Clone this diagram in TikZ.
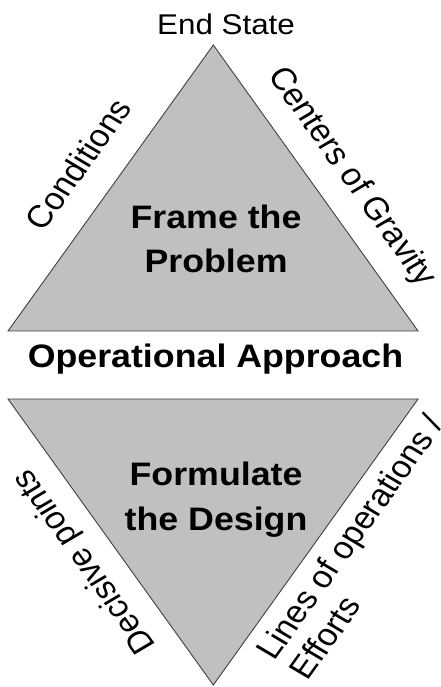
\documentclass[tikz,border=0pt]{standalone}
\usepackage{fontspec}
\setmainfont{Liberation Sans}
\definecolor{trifill}{HTML}{C0C0C0}
\definecolor{triedge}{HTML}{404040}
\tikzset{
  tri/.style={fill=trifill, draw=triedge, line width=0.9pt, line join=miter},
  sidelabel/.style={inner sep=0pt, outer sep=0pt, font=\fontsize{31.5}{36}\selectfont},
  biglabel/.style={inner sep=0pt, outer sep=0pt, font=\bfseries\fontsize{32.5}{44.7}\selectfont, align=center},
  toplabel/.style={inner sep=0pt, outer sep=0pt, font=\fontsize{28.5}{34}\selectfont}
}
\begin{document}
\begin{tikzpicture}[x=1pt,y=1pt]
\clip (0,0) rectangle (440,687);
\begin{scope}[xscale=1.1, transform shape]
  % upper triangle
  \coordinate (ua) at (193.9,642);
  \coordinate (ul) at (7.3,356);
  \coordinate (ur) at (380,356);
  \draw[tri] (ul) -- (ua) -- (ur) -- cycle;
  % lower triangle
  \coordinate (ll) at (7.3,288);
  \coordinate (lr) at (380,288);
  \coordinate (lb) at (193.9,2);
  \draw[tri] (ll) -- (lr) -- (lb) -- cycle;
  % labels
  \node[toplabel, anchor=base] (endstate) at (205.5,652) {End State};
  \node[biglabel, anchor=base] (opapp) at (195.9,319) {Operational Approach};
  \node[biglabel] (frame) at (196.4,448) {Frame the\\Problem};
  \node[biglabel] (formulate) at (196.4,187.3) {Formulate\\the Design};
  \node[sidelabel, rotate=56.9] (cond) at (70.9,523) {Conditions};
  \node[sidelabel, rotate=-56.9] (cog) at (319,510) {Centers of Gravity};
  \node[sidelabel, rotate=123.1] (dec) at (77.3,126) {Decisive points};
  \node[sidelabel, rotate=56.9, align=left] (loe) at (332.8,140.3) {Lines of operations /\\Efforts};
\end{scope}
\end{tikzpicture}
\end{document}
